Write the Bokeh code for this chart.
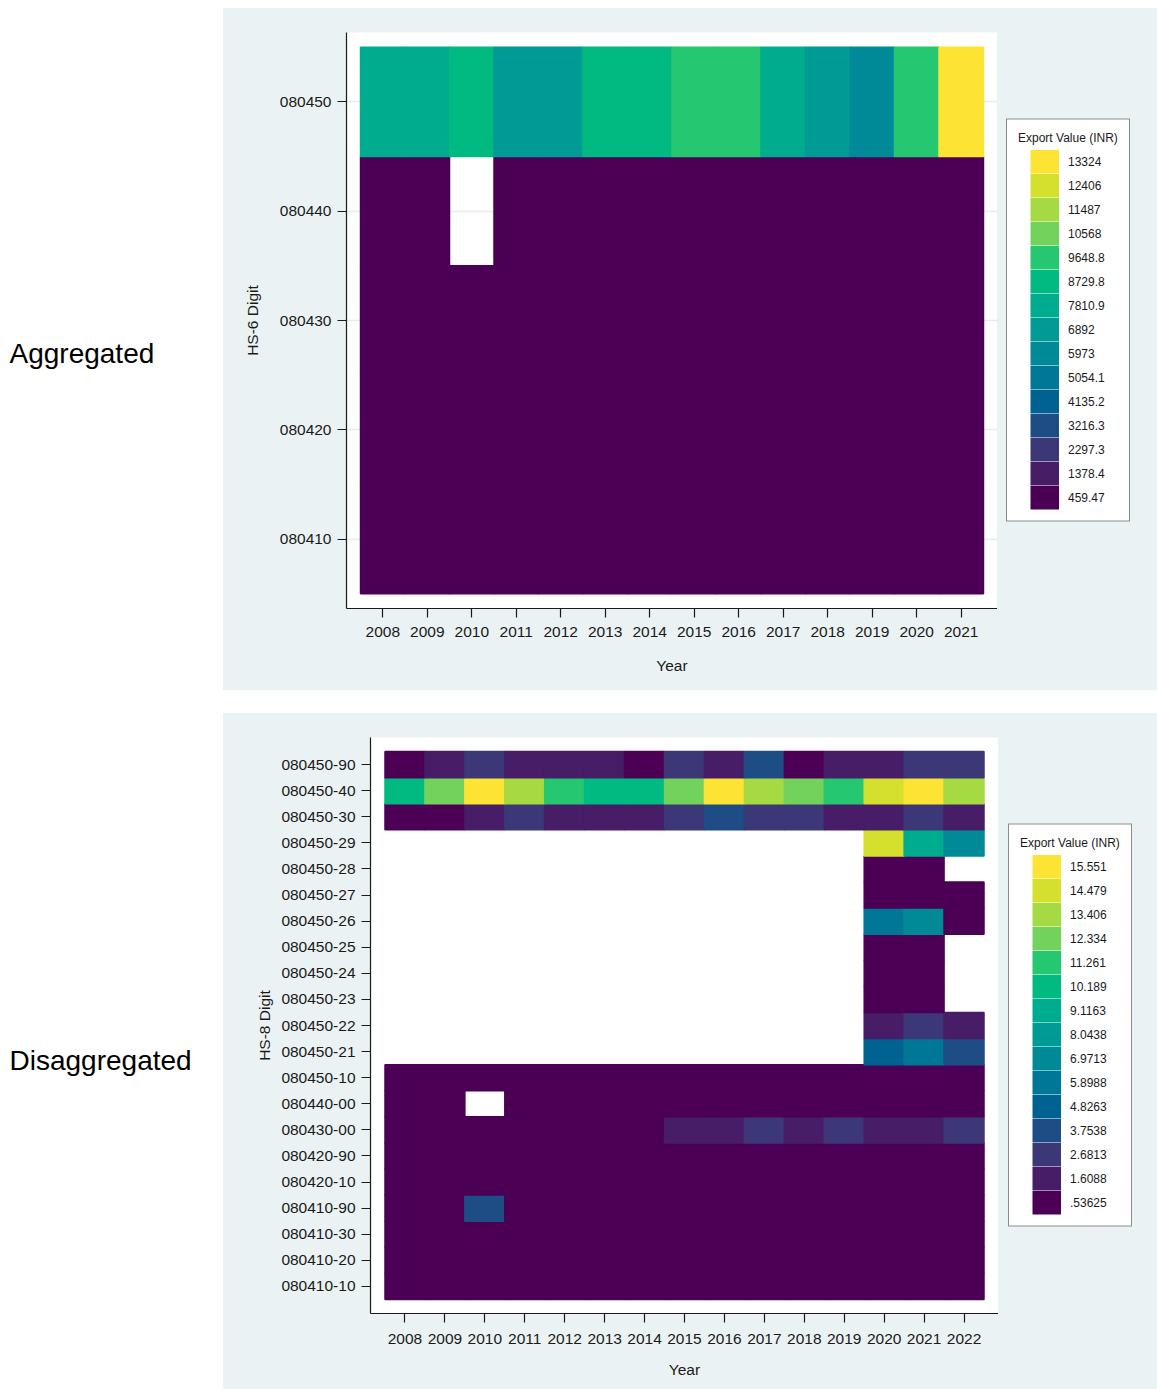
import math
from bokeh.plotting import figure
from bokeh.models import (ColumnDataSource, FactorRange, Legend, LegendItem, Label,
                          Range1d, Spacer, LinearColorMapper)
from bokeh.layouts import row, column
from bokeh.core.properties import value
from bokeh.embed import file_html
from bokeh.resources import INLINE

N = None

# ---------------- Aggregated (HS-6) ----------------
years_hs6 = ["2008", "2009", "2010", "2011", "2012", "2013", "2014",
             "2015", "2016", "2017", "2018", "2019", "2020", "2021"]
codes_hs6 = ["080410", "080420", "080430", "080440", "080450"]
hs6_080410 = [210, 185, 240, 160, 275, 230, 190, 310, 260, 205, 180, 225, 150, 240]
hs6_080420 = [95, 120, 80, 140, 110, 130, 105, 90, 150, 125, 100, 115, 85, 135]
hs6_080430 = [330, 290, 410, 360, 380, 420, 350, 520, 480, 560, 470, 540, 450, 610]
hs6_080440 = [20, 15, N, 35, 10, 25, 30, 18, 0, 12, 22, 28, 16, 40]
hs6_080450 = [7820, 7690, 8840, 6950, 7120, 8610, 8930, 9620, 9470, 7930, 6870, 5980, 9710, 13784]
legend_labels_hs6 = ["459.47", "1378.4", "2297.3", "3216.3", "4135.2", "5054.1", "5973",
                     "6892", "7810.9", "8729.8", "9648.8", "10568", "11487", "12406", "13324"]

# ---------------- Disaggregated (HS-8) ----------------
years_hs8 = ["2008", "2009", "2010", "2011", "2012", "2013", "2014", "2015",
             "2016", "2017", "2018", "2019", "2020", "2021", "2022"]
codes_hs8 = ["080410-10", "080410-20", "080410-30", "080410-90", "080420-10", "080420-90",
             "080430-00", "080440-00", "080450-10", "080450-21", "080450-22", "080450-23",
             "080450-24", "080450-25", "080450-26", "080450-27", "080450-28", "080450-29",
             "080450-30", "080450-40", "080450-90"]
hs8_080410_10 = [0.15, 0.12, 0.18, 0.14, 0.17, 0.13, 0.16, 0.19, 0.15, 0.18, 0.14, 0.17, 0.16, 0.13, 0.15]
hs8_080410_20 = [0.06, 0.08, 0.05, 0.07, 0.09, 0.06, 0.08, 0.10, 0.07, 0.09, 0.08, 0.06, 0.07, 0.08, 0.05]
hs8_080410_30 = [0.01, 0.00, 0.02, 0.01, 0.01, 0.02, 0.01, 0.03, 0.02, 0.01, 0.02, 0.01, 0.02, 0.01, 0.02]
hs8_080410_90 = [0.35, 0.42, 3.65, 0.38, 0.44, 0.51, 0.47, 0.55, 0.49, 0.58, 0.52, 0.61, 0.46, 0.57, 0.63]
hs8_080420_10 = [0.02, 0.01, 0.03, 0.02, 0.04, 0.03, 0.02, 0.05, 0.03, 0.04, 0.02, 0.03, 0.01, 0.02, 0.03]
hs8_080420_90 = [0.21, 0.18, 0.25, 0.19, 0.23, 0.27, 0.22, 0.30, 0.26, 0.24, 0.28, 0.31, 0.20, 0.25, 0.29]
hs8_080430_00 = [0.48, 0.53, 0.61, 0.57, 0.66, 0.72, 0.69, 1.41, 1.62, 2.47, 1.55, 2.38, 1.63, 1.71, 2.52]
hs8_080440_00 = [0.05, 0.03, N, 0.04, 0.06, 0.02, 0.05, 0.07, 0.04, 0.03, 0.06, 0.05, 0.08, 0.04, 0.06]
hs8_080450_10 = [0.12, 0.09, 0.15, 0.11, 0.08, 0.14, 0.10, 0.13, 0.16, 0.12, 0.11, 0.09, 0.18, 0.14, 0.12]
hs8_080450_21 = [N, N, N, N, N, N, N, N, N, N, N, N, 4.79, 5.86, 3.71]
hs8_080450_22 = [N, N, N, N, N, N, N, N, N, N, N, N, 1.52, 2.61, 1.88]
hs8_080450_23 = [N, N, N, N, N, N, N, N, N, N, N, N, 0.31, 0.22, N]
hs8_080450_24 = [N, N, N, N, N, N, N, N, N, N, N, N, 0.27, 0.35, N]
hs8_080450_25 = [N, N, N, N, N, N, N, N, N, N, N, N, 0.38, 0.44, N]
hs8_080450_26 = [N, N, N, N, N, N, N, N, N, N, N, N, 5.81, 6.93, 0.64]
hs8_080450_27 = [N, N, N, N, N, N, N, N, N, N, N, N, 0.52, 0.47, 0.29]
hs8_080450_28 = [N, N, N, N, N, N, N, N, N, N, N, N, 0.41, 0.33, N]
hs8_080450_29 = [N, N, N, N, N, N, N, N, N, N, N, N, 14.41, 9.02, 6.88]
hs8_080450_30 = [0.74, 0.81, 1.62, 2.49, 1.83, 1.77, 1.69, 2.56, 3.58, 2.67, 2.52, 1.91, 1.84, 2.38, 1.73]
hs8_080450_40 = [10.21, 12.36, 15.72, 13.45, 11.18, 10.05, 10.33, 12.18, 16.087, 13.21, 12.42, 11.31, 14.52, 15.48, 13.38]
hs8_080450_90 = [0.62, 1.71, 2.58, 1.85, 1.64, 1.52, 0.71, 2.44, 1.58, 3.62, 0.88, 1.49, 1.77, 2.63, 2.71]
legend_labels_hs8 = [".53625", "1.6088", "2.6813", "3.7538", "4.8263", "5.8988", "6.9713",
                     "8.0438", "9.1163", "10.189", "11.261", "12.334", "13.406", "14.479", "15.551"]

rows_hs6 = [hs6_080410, hs6_080420, hs6_080430, hs6_080440, hs6_080450]
rows_hs8 = [hs8_080410_10, hs8_080410_20, hs8_080410_30, hs8_080410_90, hs8_080420_10,
            hs8_080420_90, hs8_080430_00, hs8_080440_00, hs8_080450_10, hs8_080450_21,
            hs8_080450_22, hs8_080450_23, hs8_080450_24, hs8_080450_25, hs8_080450_26,
            hs8_080450_27, hs8_080450_28, hs8_080450_29, hs8_080450_30, hs8_080450_40,
            hs8_080450_90]

SANS = "'Liberation Sans', Arial, sans-serif"
BG = "#eaf2f3"
INK = "#1a1a1a"


def hcl_viridis(n):
    """HCL-based viridis (Stata heatplot default palette)."""
    Xn, Yn, Zn = 95.047, 100.0, 108.883
    un = 4 * Xn / (Xn + 15 * Yn + 3 * Zn)
    vn = 9 * Yn / (Xn + 15 * Yn + 3 * Zn)
    out = []
    for j in range(n):
        i = 1 - j / (n - 1)
        L = 90 - 75 * i ** 1.1
        C = 95 - 55 * i
        H = 75 + 225 * i
        U = C * math.cos(math.radians(H))
        V = C * math.sin(math.radians(H))
        Y = Yn * (((L + 16) / 116) ** 3 if L > 7.999592 else L / 903.3)
        u = U / (13 * L) + un
        v = V / (13 * L) + vn
        X = 9.0 * Y * u / (4 * v)
        Z = -X / 3 - 5 * Y + 3 * Y / v
        X, Y, Z = X / 100, Y / 100, Z / 100
        r = 3.240479 * X - 1.537150 * Y - 0.498535 * Z
        g = -0.969256 * X + 1.875992 * Y + 0.041556 * Z
        b = 0.055648 * X - 0.204043 * Y + 1.057311 * Z

        def gam(c):
            c = 12.92 * c if c <= 0.0031308 else 1.055 * c ** (1 / 2.4) - 0.055
            return int(round(min(max(c, 0.0), 1.0) * 255))
        out.append("#%02x%02x%02x" % (gam(r), gam(g), gam(b)))
    return out


def heat_panel(years, codes, rows, labels, ylab, heat_w, leg_w, height, bl, bt, bb,
               xpad, ypad, ygrid, ylab_standoff, xlab_standoff, xtick_standoff, leg_margin):
    xs, ys, vs = [], [], []
    for code, vals in zip(codes, rows):
        for yr, v in zip(years, vals):
            if v is None:
                continue
            xs.append(yr)
            ys.append(code)
            vs.append(v)
    n = len(labels)
    pal = hcl_viridis(n)
    mapper = LinearColorMapper(palette=pal, low=min(vs), high=max(vs))

    p = figure(x_range=FactorRange(factors=years, range_padding=xpad, range_padding_units="absolute"),
               y_range=FactorRange(factors=codes, range_padding=ypad, range_padding_units="absolute"),
               width=heat_w, height=height, output_backend="svg", toolbar_location=None,
               min_border_left=bl, min_border_right=0, min_border_top=bt, min_border_bottom=bb,
               background_fill_color="white", border_fill_color=BG, outline_line_color=None)

    src = ColumnDataSource(dict(year=xs, code=ys, value=vs))
    p.rect(x="year", y="code", width=1, height=1, source=src,
           fill_color={"field": "value", "transform": mapper},
           line_color={"field": "value", "transform": mapper}, line_width=1.5)

    for ax in (p.xaxis[0], p.yaxis[0]):
        ax.axis_line_color = INK
        ax.axis_line_width = 1.2
        ax.major_tick_line_color = INK
        ax.major_tick_line_width = 1.2
        ax.major_tick_out = 9
        ax.major_tick_in = 0
        ax.minor_tick_line_color = None
        ax.major_label_text_font = SANS
        ax.major_label_text_font_size = "15.5px"
        ax.major_label_text_color = INK
        ax.axis_label_text_font = SANS
        ax.axis_label_text_font_size = "15.5px"
        ax.axis_label_text_font_style = "normal"
        ax.axis_label_text_color = INK
    p.xaxis.axis_label = "Year"
    p.yaxis.axis_label = ylab
    p.xaxis.major_label_standoff = xtick_standoff
    p.yaxis.major_label_standoff = 6
    p.xaxis.axis_label_standoff = xlab_standoff
    p.yaxis.axis_label_standoff = ylab_standoff
    p.xgrid.grid_line_color = None
    if ygrid:
        p.ygrid.grid_line_color = "#e3ecee"
        p.ygrid.grid_line_width = 1.5
    else:
        p.ygrid.grid_line_color = None

    # legend panel (grey strip to the right of the plot region)
    lf = figure(x_range=FactorRange(factors=years), y_range=FactorRange(factors=codes),
                width=leg_w, height=height, output_backend="svg", toolbar_location=None,
                x_axis_location=None, y_axis_location=None,
                min_border_left=0, min_border_right=0, min_border_top=bt, min_border_bottom=bb,
                background_fill_color=BG, border_fill_color=BG, outline_line_color=None)
    lf.xgrid.grid_line_color = None
    lf.ygrid.grid_line_color = None
    lf.grid.visible = False
    items = []
    for k in range(n - 1, -1, -1):
        # single-point line: draws nothing in the panel, only provides the legend key;
        # the dash pattern leaves a gap before the 29px key box
        r = lf.line(x=xs[:1], y=ys[:1], line_color=pal[k], line_width=24, line_cap="butt",
                    line_dash="0 12 29 1000")
        items.append(LegendItem(label=value(labels[k]), renderers=[r]))
    legend = Legend(items=items, location="center_left", title="Export Value (INR)",
                    title_text_font=SANS, title_text_font_size="12px",
                    title_text_font_style="normal", title_text_color=INK, title_standoff=5,
                    label_text_font=SANS, label_text_font_size="12px", label_text_color=INK,
                    glyph_width=41, glyph_height=24, label_height=24, spacing=0,
                    label_standoff=9, padding=11, margin=leg_margin,
                    border_line_color=INK, border_line_width=1.2,
                    background_fill_color="white", background_fill_alpha=1.0)
    lf.add_layout(legend)
    return p, lf


top, top_leg = heat_panel(years_hs6, codes_hs6, rows_hs6, legend_labels_hs6, "HS-6 Digit",
                          heat_w=774, leg_w=160, height=682, bl=123, bt=24, bb=82,
                          xpad=0.315, ypad=0.136, ygrid=True, ylab_standoff=16,
                          xlab_standoff=17, xtick_standoff=9, leg_margin=9)
bottom, bot_leg = heat_panel(years_hs8, codes_hs8, rows_hs8, legend_labels_hs8, "HS-8 Digit",
                             heat_w=775, leg_w=159, height=676, bl=147, bt=24, bb=76,
                             xpad=0.363, ypad=0.54, ygrid=False, ylab_standoff=5,
                             xlab_standoff=14, xtick_standoff=11, leg_margin=10)


def side_label(text, height, bt, bb, frame_top, frame_bottom, y):
    f = figure(width=223, height=height, x_range=Range1d(0, 223),
               y_range=Range1d(frame_bottom, frame_top),
               min_border_left=0, min_border_right=0, min_border_top=bt, min_border_bottom=bb,
               toolbar_location=None, output_backend="svg",
               x_axis_location=None, y_axis_location=None, outline_line_color=None,
               border_fill_color="white", background_fill_color="white")
    f.grid.visible = False
    f.add_layout(Label(x=9, y=y, text=text, text_font=SANS, text_font_size="28px",
                       text_baseline="middle", text_color="black"))
    return f


lab_top = side_label("Aggregated", 682, 24, 82, 32, 608, 353)
lab_bot = side_label("Disaggregated", 676, 24, 76, 737, 1313, 1060)

layout = column(Spacer(width=1157, height=8),
                row(lab_top, row(top, top_leg, styles={"background-color": BG})),
                Spacer(width=1157, height=23),
                row(lab_bot, row(bottom, bot_leg, styles={"background-color": BG})))

open("out.html", "w").write(file_html(layout, INLINE))
